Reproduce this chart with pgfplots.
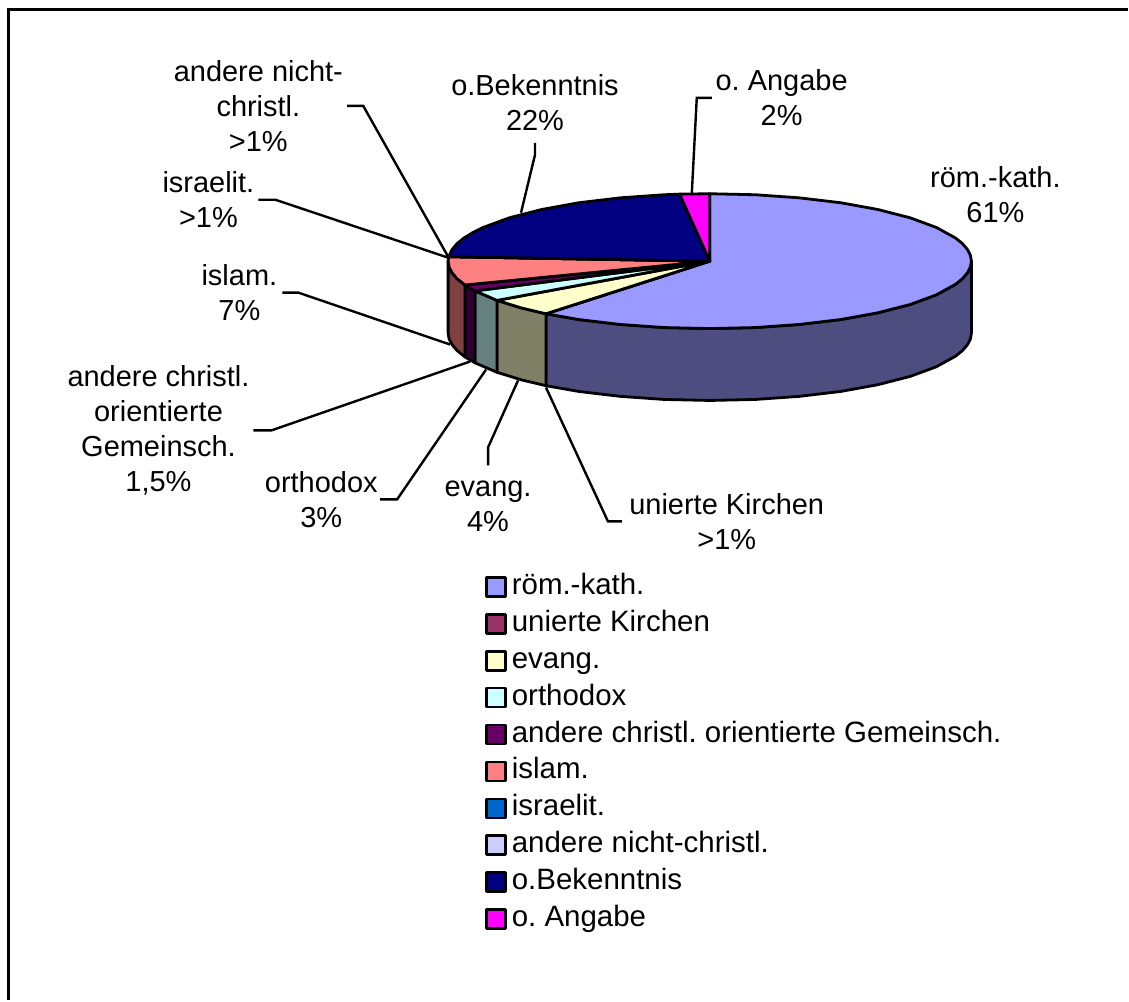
\documentclass[border=0pt]{standalone}
\usepackage{pgfplots}
\pgfplotsset{compat=1.18}
\usepackage{fontspec}
\setmainfont{Liberation Sans}
\frenchspacing

\definecolor{roem}{HTML}{9999FF}
\definecolor{roemS}{HTML}{4D4D80}
\definecolor{uniert}{HTML}{993366}
\definecolor{evang}{HTML}{FFFFCC}
\definecolor{evangS}{HTML}{808066}
\definecolor{ortho}{HTML}{CCFFFF}
\definecolor{orthoS}{HTML}{668080}
\definecolor{christ}{HTML}{660066}
\definecolor{christS}{HTML}{330033}
\definecolor{islam}{HTML}{FF8080}
\definecolor{islamS}{HTML}{804040}
\definecolor{israel}{HTML}{0066CC}
\definecolor{nicht}{HTML}{CCCCFF}
\definecolor{bekennt}{HTML}{000080}
\definecolor{angabe}{HTML}{FF00FF}

\tikzset{
    pieedge/.style={draw=black, line width=2.8pt, line join=round},
    leader/.style={black, line width=2.4pt, line join=miter},
    lab/.style={align=center, inner sep=0pt, font=\fontsize{29}{35}\selectfont},
}

\begin{document}
\begin{tikzpicture}
\begin{axis}[
    scale only axis,
    width=1129pt,
    height=1001pt,
    xmin=-0.7, xmax=1128.3,
    ymin=0, ymax=1001,
    y dir=reverse,
    hide axis,
    clip=false,
    legend cell align=left,
    legend image code/.code={\draw[#1] (0pt,-9.5pt) rectangle (19pt,9.5pt);},
    legend style={
        draw=none, fill=none,
        at={(axis cs:485,574)}, anchor=north west,
        inner sep=0pt, outer sep=0pt,
        row sep=10pt, column sep=5pt,
        font=\fontsize{29.5}{35}\selectfont,
        nodes={inner sep=0pt, text height=21pt, text depth=6pt},
    },
]
%% keeps the page as large as the chart area
\addplot[forget plot, draw=none] coordinates {(-0.7,0)(1128.3,1001)};

%% outer frame (only top and left are in the picture)
\addplot[forget plot, black, line width=3pt] coordinates {(8,1001)(8,10)(1128.3,10)};

%% leader lines
\addplot[leader, forget plot] coordinates {(347,106)(363,106)(448,257)};
\addplot[leader, forget plot] coordinates {(258,200)(275,200)(448,258)};
\addplot[leader, forget plot] coordinates {(282,293)(298,293)(450,345)};
\addplot[leader, forget plot] coordinates {(253,431)(271,431)(470,362)};
\addplot[leader, forget plot] coordinates {(380,500)(397,500)(486,370)};
\addplot[leader, forget plot] coordinates {(488,466)(488,448)(518,381)};
\addplot[leader, forget plot] coordinates {(622,522)(608,522)(546,388)};
\addplot[leader, forget plot] coordinates {(535,143)(535,155)(521,213)};
\addplot[leader, forget plot] coordinates {(712,98)(697,98)(692,194)};

%% side walls
\addplot[pieedge, fill=roemS, forget plot] coordinates {
    (972,261.5)(971,267.4)(968,273.2)(963.1,279)(956.2,284.6)(936.9,295.25)(910.7,304.9)
    (878.4,313.2)(841,320)(799.6,324.9)(755.5,328)(710,329)(664.5,328)(620.4,324.9)(579,320)(546,314.2)
    (546,386.2)(579,392)(620.4,396.9)(664.5,400)(710,401)(755.5,400)(799.6,396.9)(841,392)
    (878.4,385.2)(910.7,376.9)(936.9,367.25)(956.2,356.6)(963.1,351)(968,345.2)(971,339.4)(972,333.5)
} -- cycle;
\addplot[pieedge, fill=evangS, forget plot] coordinates {
    (546,314.2)(521.5,308.4)(497,300.8)(497,372.8)(521.5,380.4)(546,386.2)
} -- cycle;
\addplot[pieedge, fill=orthoS, forget plot] coordinates {
    (497,300.8)(474.9,291.3)(474.9,363.3)(497,372.8)
} -- cycle;
\addplot[pieedge, fill=christS, forget plot] coordinates {
    (474.9,291.3)(464.9,285.4)(464.9,357.4)(474.9,363.3)
} -- cycle;
\addplot[pieedge, fill=islamS, forget plot] coordinates {
    (464.9,285.4)(456.9,279)(452,273.2)(449,267.4)(448,261.5)
    (448,333.5)(449,339.4)(452,345.2)(456.9,351)(464.9,357.4)
} -- cycle;

%% top faces, in legend order
\addplot[pieedge, fill=roem] coordinates {
    (710,261.5)(710,194)(755.5,195)(799.6,198.1)(841,203)(878.4,209.8)(910.7,218.1)(936.9,227.75)
    (956.2,238.4)(963.1,244)(968,249.8)(971,255.6)(972,261.5)(971,267.4)(968,273.2)(963.1,279)
    (956.2,284.6)(936.9,295.25)(910.7,304.9)(878.4,313.2)(841,320)(799.6,324.9)(755.5,328)(710,329)
    (664.5,328)(620.4,324.9)(579,320)(546,314.2)
} -- cycle;
\addlegendentry{röm.-kath.}
\addplot[pieedge, fill=uniert] coordinates {(710,261.5)(546,314.2)} -- cycle;
\addlegendentry{unierte Kirchen}
\addplot[pieedge, fill=evang] coordinates {(710,261.5)(546,314.2)(521.5,308.4)(497,300.8)} -- cycle;
\addlegendentry{evang.}
\addplot[pieedge, fill=ortho] coordinates {(710,261.5)(497,300.8)(474.9,291.3)} -- cycle;
\addlegendentry{orthodox}
\addplot[pieedge, fill=christ] coordinates {(710,261.5)(474.9,291.3)(464.9,285.4)} -- cycle;
\addlegendentry{andere christl. orientierte Gemeinsch.}
\addplot[pieedge, fill=islam] coordinates {
    (710,261.5)(464.9,285.4)(456.9,279)(452,273.2)(449,267.4)(448,261.5)(448.6,257)
} -- cycle;
\addlegendentry{islam.}
\addplot[pieedge, fill=israel] coordinates {(710,261.5)(448.6,257)} -- cycle;
\addlegendentry{israelit.}
\addplot[pieedge, fill=nicht] coordinates {(710,261.5)(448.6,257)} -- cycle;
\addlegendentry{andere nicht-christl.}
\addplot[pieedge, fill=bekennt] coordinates {
    (710,261.5)(448.6,257)(452,249.8)(456.9,244)(463.8,238.4)(472.5,233)(483.1,227.75)(509.3,218.1)
    (541.6,209.8)(579,203)(620.4,198.1)(664.5,195)(679.9,194.4)
} -- cycle;
\addlegendentry{o.Bekenntnis}
\addplot[pieedge, fill=angabe] coordinates {(710,261.5)(679.9,194.4)(710,194)} -- cycle;
\addlegendentry{o. Angabe}

%% data labels
\node[lab] at (axis cs:258,106) {andere nicht-\\christl.\\>1\%};
\node[lab] at (axis cs:208,200) {israelit.\\>1\%};
\node[lab] at (axis cs:239,293) {islam.\\7\%};
\node[lab] at (axis cs:158,431) {andere christl.\\orientierte\\Gemeinsch.\\1,5\%};
\node[lab] at (axis cs:321,500) {orthodox\\3\%};
\node[lab] at (axis cs:488,507) {evang.\\4\%};
\node[lab] at (axis cs:727,522) {unierte Kirchen\\>1\%};
\node[lab] at (axis cs:535,103) {o.Bekenntnis\\22\%};
\node[lab] at (axis cs:782,98) {o. Angabe\\2\%};
\node[lab] at (axis cs:996,195) {röm.-kath.\\61\%};
\end{axis}
\end{tikzpicture}
\end{document}
